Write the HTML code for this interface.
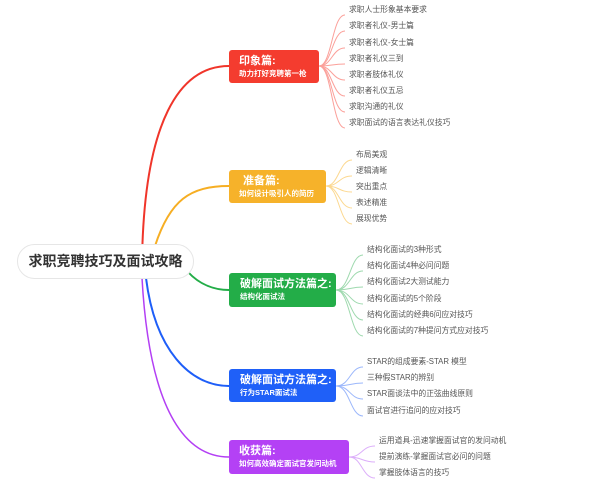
<!DOCTYPE html><html><head><meta charset="utf-8"><style>
body{margin:0;width:601px;height:490px;background:#fff;overflow:hidden;position:relative;font-family:"Liberation Sans","Noto Sans CJK SC",sans-serif}
.b{position:absolute;border-radius:3px;color:#fff;font-weight:bold;box-sizing:border-box;padding-left:11px;white-space:nowrap}
.b .t{font-size:11px;line-height:13px;margin-top:5px}
.b .s{font-size:7.5px;line-height:11px}
.l{position:absolute;font-size:7.8px;color:#555;white-space:nowrap;line-height:10px}
</style></head><body>
<svg width="601" height="490" style="position:absolute;left:0;top:0" fill="none">
<path d="M142,262 C144,120 180,66 229,66" stroke="#f0352a" stroke-width="2"/>
<path d="M155,246 C170,200 190,186 229,186" stroke="#f6ae23" stroke-width="2"/>
<path d="M188,272 C200,285 215,290 229,290" stroke="#23ad48" stroke-width="2"/>
<path d="M146,278 C155,350 190,386 229,386" stroke="#1e5ef8" stroke-width="2"/>
<path d="M142,278 C150,420 190,457 229,457" stroke="#b33ff4" stroke-width="1.5"/>
<g stroke="#fba09a" stroke-width="1">
<path d="M319,66 C332,66 332,15 345,15"/><path d="M319,66 C332,66 332,31 345,31"/><path d="M319,66 C332,66 332,48 345,48"/><path d="M319,66 C332,66 332,64 345,64"/><path d="M319,66 C332,66 332,80 345,80"/><path d="M319,66 C332,66 332,96 345,96"/><path d="M319,66 C332,66 332,112 345,112"/><path d="M319,66 C332,66 332,128 345,128"/></g>
<g stroke="#fcd88f" stroke-width="1">
<path d="M326,186 C339,186 339,160 352,160"/><path d="M326,186 C339,186 339,176 352,176"/><path d="M326,186 C339,186 339,192 352,192"/><path d="M326,186 C339,186 339,208 352,208"/><path d="M326,186 C339,186 339,224 352,224"/></g>
<g stroke="#9ed9ae" stroke-width="1">
<path d="M336,290 C350,290 350,255 363,255"/><path d="M336,290 C350,290 350,271 363,271"/><path d="M336,290 C350,290 350,287 363,287"/><path d="M336,290 C350,290 350,304 363,304"/><path d="M336,290 C350,290 350,320 363,320"/><path d="M336,290 C350,290 350,336 363,336"/></g>
<g stroke="#9bb7fb" stroke-width="1">
<path d="M336,386 C350,386 350,367 363,367"/><path d="M336,386 C350,386 350,383 363,383"/><path d="M336,386 C350,386 350,399 363,399"/><path d="M336,386 C350,386 350,416 363,416"/></g>
<g stroke="#dcaefa" stroke-width="1">
<path d="M349,457 C362,457 362,446 375,446"/><path d="M349,457 C362,457 362,462 375,462"/><path d="M349,457 C362,457 362,478 375,478"/></g>
</svg>
<div style="position:absolute;left:17px;top:244px;width:177px;height:35px;border:1px solid #e6e6e6;border-radius:18px;box-sizing:border-box;background:#fff;font-weight:bold;font-size:14px;color:#333;text-align:center;line-height:33px">求职竞聘技巧及面试攻略</div>
<div class="b" style="left:229px;top:50px;width:90px;height:33px;background:#f43c2f;padding-left:10px"><div class="t">印象篇:</div><div class="s">助力打好竞聘第一枪</div></div>
<div class="b" style="left:229px;top:170px;width:97px;height:33px;background:#f6b22a;padding-left:10px"><div class="t" style="padding-left:4px">准备篇:</div><div class="s">如何设计吸引人的简历</div></div>
<div class="b" style="left:229px;top:273px;width:107px;height:34px;background:#23ad48"><div class="t">破解面试方法篇之:</div><div class="s">结构化面试法</div></div>
<div class="b" style="left:229px;top:369px;width:107px;height:33px;background:#1f60f8"><div class="t">破解面试方法篇之:</div><div class="s">行为STAR面试法</div></div>
<div class="b" style="left:229px;top:440px;width:120px;height:34px;background:#b441f5;padding-left:10px"><div class="t">收获篇:</div><div class="s">如何高效确定面试官发问动机</div></div>
<div class="l" style="left:349px;top:5px">求职人士形象基本要求</div>
<div class="l" style="left:349px;top:21px">求职者礼仪-男士篇</div>
<div class="l" style="left:349px;top:38px">求职者礼仪-女士篇</div>
<div class="l" style="left:349px;top:54px">求职者礼仪三到</div>
<div class="l" style="left:349px;top:70px">求职者肢体礼仪</div>
<div class="l" style="left:349px;top:86px">求职者礼仪五忌</div>
<div class="l" style="left:349px;top:102px">求职沟通的礼仪</div>
<div class="l" style="left:349px;top:118px">求职面试的语言表达礼仪技巧</div>
<div class="l" style="left:356px;top:150px">布局美观</div>
<div class="l" style="left:356px;top:166px">逻辑清晰</div>
<div class="l" style="left:356px;top:182px">突出重点</div>
<div class="l" style="left:356px;top:198px">表述精准</div>
<div class="l" style="left:356px;top:214px">展现优势</div>
<div class="l" style="left:367px;top:245px">结构化面试的3种形式</div>
<div class="l" style="left:367px;top:261px">结构化面试4种必问问题</div>
<div class="l" style="left:367px;top:277px">结构化面试2大测试能力</div>
<div class="l" style="left:367px;top:294px">结构化面试的5个阶段</div>
<div class="l" style="left:367px;top:310px">结构化面试的经典6问应对技巧</div>
<div class="l" style="left:367px;top:326px">结构化面试的7种提问方式应对技巧</div>
<div class="l" style="left:367px;top:357px">STAR的组成要素-STAR 模型</div>
<div class="l" style="left:367px;top:373px">三种假STAR的辨别</div>
<div class="l" style="left:367px;top:389px">STAR面谈法中的正弦曲线原则</div>
<div class="l" style="left:367px;top:406px">面试官进行追问的应对技巧</div>
<div class="l" style="left:379px;top:436px">运用道具-迅速掌握面试官的发问动机</div>
<div class="l" style="left:379px;top:452px">提前演练-掌握面试官必问的问题</div>
<div class="l" style="left:379px;top:468px">掌握肢体语言的技巧</div>
</body></html>
